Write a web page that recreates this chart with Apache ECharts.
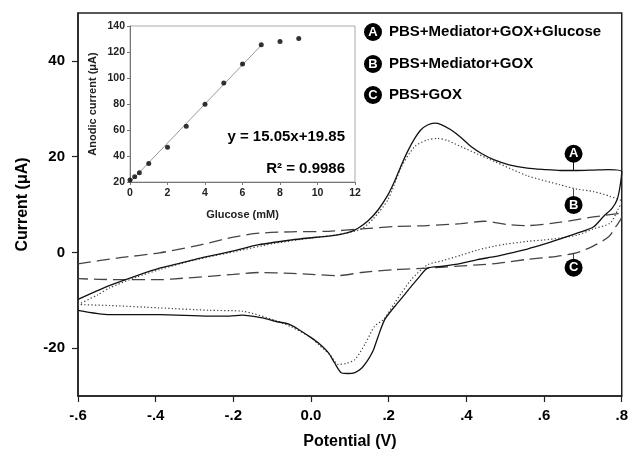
<!DOCTYPE html>
<html>
<head>
<meta charset="utf-8">
<script src="https://cdn.jsdelivr.net/npm/echarts@6/dist/echarts.min.js"></script>
<style>html,body{margin:0;padding:0;background:#fff}#c{width:631px;height:461px}</style>
</head>
<body>
<div id="c"></div>
<script>
// ---- main CV data (Potential V, Current uA) ----
// A: PBS+Mediator+GOX+Glucose (solid)
var aUpX = [-0.6, -0.55, -0.518, -0.45, -0.39, -0.3, -0.262, -0.2, -0.134, -0.05, -0.006, 0.045, 0.079, 0.105, 0.122, 0.147, 0.173, 0.198, 0.216, 0.233, 0.25, 0.267, 0.283, 0.3, 0.318, 0.335, 0.36, 0.386, 0.412, 0.44, 0.472, 0.51, 0.557, 0.6, 0.642, 0.685, 0.727, 0.765, 0.8];
var aUpY = [-9.8, -8.0, -6.9, -4.9, -3.3, -1.5, -0.8, 0.3, 1.6, 2.6, 3.0, 3.4, 3.8, 4.4, 5.1, 6.6, 8.9, 12.0, 15.0, 18.3, 21.3, 23.8, 25.6, 26.6, 27.0, 26.7, 25.6, 24.0, 22.1, 20.6, 19.3, 18.3, 17.6, 17.3, 17.1, 17.1, 17.2, 17.3, 16.9];
var aLoX = [0.8, 0.795, 0.788, 0.775, 0.753, 0.727, 0.685, 0.642, 0.6, 0.557, 0.5, 0.472, 0.429, 0.386, 0.34, 0.3, 0.28, 0.258, 0.237, 0.216, 0.19, 0.173, 0.16, 0.147, 0.13, 0.113, 0.096, 0.079, 0.06, 0.045, 0.02, 0.0, -0.03, -0.057, -0.092, -0.125, -0.177, -0.21, -0.262, -0.39, -0.518, -0.6];
var aLoY = [16.9, 13.5, 11.0, 9.2, 7.5, 5.3, 4.0, 2.8, 1.7, 0.7, -0.4, -0.9, -1.5, -2.3, -2.9, -3.3, -5.0, -7.1, -9.2, -11.25, -14.0, -17.5, -20.5, -22.4, -24.2, -25.1, -25.3, -25.2, -23.0, -21.0, -19.0, -17.8, -16.2, -15.0, -14.4, -13.7, -13.1, -13.3, -13.3, -13.0, -13.0, -12.1];
// B: PBS+Mediator+GOX (dotted)
var bUpX = [-0.6, -0.55, -0.518, -0.45, -0.39, -0.3, -0.2, -0.1, 0.0, 0.05, 0.1, 0.13, 0.16, 0.198, 0.233, 0.267, 0.3, 0.326, 0.35, 0.386, 0.43, 0.472, 0.557, 0.642, 0.685, 0.727, 0.77, 0.8];
var bUpY = [-10.9, -8.9, -7.4, -5.2, -3.6, -1.6, 0.1, 1.8, 3.0, 3.5, 4.2, 4.9, 7.0, 11.0, 17.9, 22.1, 23.5, 23.8, 23.4, 22.1, 20.5, 19.0, 16.0, 14.1, 13.2, 12.7, 11.7, 10.6];
var bLoX = [0.8, 0.79, 0.77, 0.727, 0.685, 0.642, 0.6, 0.557, 0.5, 0.472, 0.429, 0.386, 0.34, 0.3, 0.258, 0.216, 0.187, 0.164, 0.14, 0.113, 0.09, 0.07, 0.05, 0.02, 0.0, -0.05, -0.092, -0.177, -0.262, -0.39, -0.518, -0.6];
var bLoY = [10.6, 8.9, 6.1, 4.9, 3.6, 3.0, 2.6, 2.3, 1.7, 1.3, 0.5, -0.6, -1.7, -2.6, -5.7, -10.5, -14.0, -15.4, -19.0, -22.4, -23.2, -23.4, -21.5, -19.3, -17.8, -15.6, -14.2, -12.3, -12.1, -11.6, -11.1, -10.9];
// C: PBS+GOX (dashed)
var cUpX = [-0.6, -0.5, -0.39, -0.3, -0.262, -0.2, -0.134, -0.05, 0.045, 0.13, 0.216, 0.3, 0.386, 0.446, 0.506, 0.557, 0.642, 0.727, 0.79, 0.8];
var cUpY = [-2.4, -1.2, -0.1, 1.3, 2.0, 3.2, 4.0, 4.3, 4.4, 4.9, 5.4, 5.6, 6.0, 6.5, 5.8, 5.6, 6.3, 7.4, 8.1, 8.2];
var cLoX = [0.8, 0.785, 0.767, 0.725, 0.683, 0.633, 0.557, 0.48, 0.43, 0.3, 0.216, 0.13, 0.07, 0.0, -0.05, -0.134, -0.2, -0.262, -0.33, -0.39, -0.5, -0.6];
var cLoY = [7.5, 5.4, 3.3, 1.25, -0.1, -0.83, -1.45, -2.3, -2.6, -3.3, -3.6, -4.2, -4.85, -4.6, -4.4, -4.2, -4.6, -5.0, -5.4, -5.7, -5.7, -5.5];

// ---- inset data ----
var glucose = [0, 0.25, 0.5, 1, 2, 3, 4, 5, 6, 7, 8, 9];
var anodic = [21.5, 24.1, 27.2, 34.3, 46.8, 62.9, 79.8, 96.1, 110.7, 125.5, 128.0, 130.3];
var fitX = [0, 7];
var fitY = [19.85, 125.2];

// ---- tick labels ----
var xTicks = [-0.6, -0.4, -0.2, 0.0, 0.2, 0.4, 0.6, 0.8];
var xTickLabels = ['-.6', '-.4', '-.2', '0.0', '.2', '.4', '.6', '.8'];
var yTicks = [-20, 0, 20, 40];
var yTickLabels = ['-20', '0', '20', '40'];

var legendLetters = ['A', 'B', 'C'];
var legendNames = ['PBS+Mediator+GOX+Glucose', 'PBS+Mediator+GOX', 'PBS+GOX'];

function pairs(xs, ys) { return xs.map(function (x, i) { return [x, ys[i]]; }); }
function labelFor(ticks, labels) {
  return function (v) {
    for (var i = 0; i < ticks.length; i++) if (Math.abs(ticks[i] - v) < 1e-6) return labels[i];
    return '';
  };
}

var FONT = '"Liberation Sans", Arial, sans-serif';
var chart = echarts.init(document.getElementById('c'), null, { renderer: 'canvas' });

function letterMark(x, y, letter) {
  return {
    coord: [x, y], symbol: 'circle', symbolSize: 18,
    itemStyle: { color: '#000' },
    label: { show: true, position: 'inside', formatter: letter, color: '#fff', fontWeight: 'bold', fontSize: 13, fontFamily: FONT }
  };
}

var legendGraphics = [];
legendLetters.forEach(function (l, i) {
  var cy = [32, 64, 95][i];
  legendGraphics.push({ type: 'circle', shape: { cx: 373, cy: cy, r: 9 }, style: { fill: '#000' }, z: 100 });
  legendGraphics.push({ type: 'text', x: 373, y: cy + 0.5, style: { text: l, fill: '#fff', font: 'bold 13px ' + FONT, align: 'center', verticalAlign: 'middle' }, z: 101 });
  legendGraphics.push({ type: 'text', x: 389, y: cy, style: { text: legendNames[i], fill: '#000', font: 'bold 15px ' + FONT, align: 'left', verticalAlign: 'middle' }, z: 101 });
});
legendGraphics.push({ type: 'text', x: 345, y: 137, style: { text: 'y = 15.05x+19.85', fill: '#000', font: 'bold 15px ' + FONT, align: 'right', verticalAlign: 'middle' }, z: 101 });
legendGraphics.push({ type: 'text', x: 345, y: 169, style: { text: 'R² = 0.9986', fill: '#000', font: 'bold 15px ' + FONT, align: 'right', verticalAlign: 'middle' }, z: 101 });

var option = {
  backgroundColor: '#fff',
  animation: false,
  grid: [
    { left: 78, right: 6, top: 13, bottom: 65, show: true, borderColor: '#222', borderWidth: 1.5, backgroundColor: 'transparent' },
    { left: 130, top: 26, width: 225, height: 156, show: true, borderColor: '#aaa', borderWidth: 1, backgroundColor: '#fff', z: 3 }
  ],
  xAxis: [
    {
      gridIndex: 0, type: 'value', min: -0.6, max: 0.8,
      name: 'Potential (V)', nameLocation: 'middle', nameGap: 38,
      nameTextStyle: { fontSize: 16, fontWeight: 'bold', fontFamily: FONT, color: '#000' },
      axisLine: { show: true, onZero: false, lineStyle: { color: '#222', width: 1.5 } },
      axisTick: { show: true, inside: false, length: 6, lineStyle: { color: '#222', width: 1.2 }, customValues: xTicks },
      axisLabel: { customValues: xTicks, formatter: labelFor(xTicks, xTickLabels), fontSize: 15, fontWeight: 'bold', fontFamily: FONT, color: '#000', margin: 12 },
      splitLine: { show: false }
    },
    {
      gridIndex: 1, type: 'value', min: 0, max: 12, interval: 2,
      name: 'Glucose (mM)', nameLocation: 'middle', nameGap: 27,
      nameTextStyle: { fontSize: 11, fontWeight: 'bold', fontFamily: FONT, color: '#222' },
      axisLine: { show: true, onZero: false, lineStyle: { color: '#777', width: 1 } },
      axisTick: { show: true, length: 3, lineStyle: { color: '#777' } },
      axisLabel: { fontSize: 10.5, fontWeight: 'bold', fontFamily: FONT, color: '#222', margin: 6 },
      splitLine: { show: false }, z: 4
    }
  ],
  yAxis: [
    {
      gridIndex: 0, type: 'value', min: -30, max: 50,
      name: 'Current (μA)', nameLocation: 'middle', nameGap: 47, nameRotate: 90,
      nameTextStyle: { fontSize: 16, fontWeight: 'bold', fontFamily: FONT, color: '#000' },
      axisLine: { show: true, onZero: false, lineStyle: { color: '#222', width: 1.5 } },
      axisTick: { show: true, length: 6, lineStyle: { color: '#222', width: 1.2 }, customValues: yTicks },
      axisLabel: { customValues: yTicks, formatter: labelFor(yTicks, yTickLabels), fontSize: 15, fontWeight: 'bold', fontFamily: FONT, color: '#000', margin: 13 },
      splitLine: { show: false }
    },
    {
      gridIndex: 1, type: 'value', min: 20, max: 140, interval: 20,
      name: 'Anodic current (μA)', nameLocation: 'middle', nameGap: 32, nameRotate: 90,
      nameTextStyle: { fontSize: 11, fontWeight: 'bold', fontFamily: FONT, color: '#222' },
      axisLine: { show: true, onZero: false, lineStyle: { color: '#777', width: 1 } },
      axisTick: { show: true, length: 3, lineStyle: { color: '#777' } },
      axisLabel: { fontSize: 10.5, fontWeight: 'bold', fontFamily: FONT, color: '#222', margin: 5 },
      splitLine: { show: false }, z: 4
    }
  ],
  series: [
    {
      name: 'C', type: 'line', xAxisIndex: 0, yAxisIndex: 0, showSymbol: false, smooth: 0.25,
      data: pairs(cUpX, cUpY).concat(pairs(cLoX, cLoY)),
      lineStyle: { color: '#444', width: 1.3, type: [13, 6] },
      markPoint: { data: [letterMark(0.676, -3.2, 'C')], z: 10 },
      markLine: { silent: true, symbol: ['none', 'none'], lineStyle: { color: '#444', width: 1, type: 'solid' }, label: { show: false },
        data: [[{ coord: [0.676, -0.3] }, { coord: [0.676, -1.5] }]] }
    },
    {
      name: 'B', type: 'line', xAxisIndex: 0, yAxisIndex: 0, showSymbol: false, smooth: 0.25,
      data: pairs(bUpX, bUpY).concat(pairs(bLoX, bLoY)),
      lineStyle: { color: '#444', width: 1.2, type: [1.3, 2.2] },
      markPoint: { data: [letterMark(0.676, 9.9, 'B')], z: 10 },
      markLine: { silent: true, symbol: ['none', 'none'], lineStyle: { color: '#444', width: 1, type: 'solid' }, label: { show: false },
        data: [[{ coord: [0.676, 13.3] }, { coord: [0.676, 11.6] }]] }
    },
    {
      name: 'A', type: 'line', xAxisIndex: 0, yAxisIndex: 0, showSymbol: false, smooth: 0.25,
      data: pairs(aUpX, aUpY).concat(pairs(aLoX, aLoY)),
      lineStyle: { color: '#111', width: 1.3, type: 'solid' },
      markPoint: { data: [letterMark(0.676, 20.6, 'A')], z: 10 },
      markLine: { silent: true, symbol: ['none', 'none'], lineStyle: { color: '#111', width: 1, type: 'solid' }, label: { show: false },
        data: [[{ coord: [0.676, 17.1] }, { coord: [0.676, 18.9] }]] }
    },
    {
      name: 'fit', type: 'line', xAxisIndex: 1, yAxisIndex: 1, showSymbol: false,
      data: pairs(fitX, fitY), lineStyle: { color: '#999', width: 1 }, z: 5
    },
    {
      name: 'inset', type: 'scatter', xAxisIndex: 1, yAxisIndex: 1, symbolSize: 5,
      data: pairs(glucose, anodic), itemStyle: { color: '#000' }, z: 6
    }
  ],
  graphic: legendGraphics
};
chart.setOption(option);
</script>
</body>
</html>
